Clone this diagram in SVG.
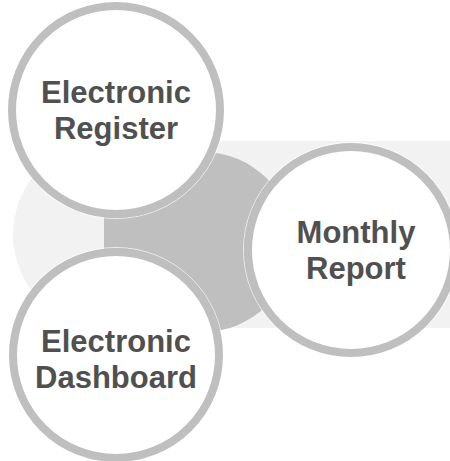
<svg xmlns="http://www.w3.org/2000/svg" width="450" height="461" viewBox="0 0 450 461">
  <style>
    .ring { fill: #ffffff; stroke: #bfbfbf; stroke-width: 8; }
    .halo { fill: none; stroke: #ffffff; stroke-width: 1; stroke-opacity: 0.7; }
    .label { font-family: "Liberation Sans", Arial, sans-serif; font-weight: bold; font-size: 31px; fill: #505050; text-anchor: middle; }
  </style>
  <g id="background">
    <rect x="13" y="141" width="540" height="187" rx="93.5" ry="93.5" fill="#f2f2f2"/>
    <circle cx="203" cy="242" r="90" fill="#bfbfbf"/>
    <rect x="104" y="205" width="100" height="76" fill="#bfbfbf"/>
  </g>
  <g id="connectors"/>
  <g id="node-register">
    <circle class="halo" cx="116" cy="110" r="108.5"/>
    <circle class="ring" cx="116" cy="110" r="104"/>
    <text class="label" x="116" y="103">Electronic</text>
    <text class="label" x="116" y="139">Register</text>
  </g>
  <g id="node-monthly">
    <circle class="halo" cx="351" cy="250" r="107.5"/>
    <circle class="ring" cx="351" cy="250" r="103"/>
    <text class="label" x="356" y="243">Monthly</text>
    <text class="label" x="356" y="279">Report</text>
  </g>
  <g id="node-dashboard">
    <circle class="halo" cx="116" cy="355" r="107.5"/>
    <circle class="ring" cx="116" cy="355" r="103"/>
    <text class="label" x="116" y="352">Electronic</text>
    <text class="label" x="116" y="388">Dashboard</text>
  </g>
</svg>
